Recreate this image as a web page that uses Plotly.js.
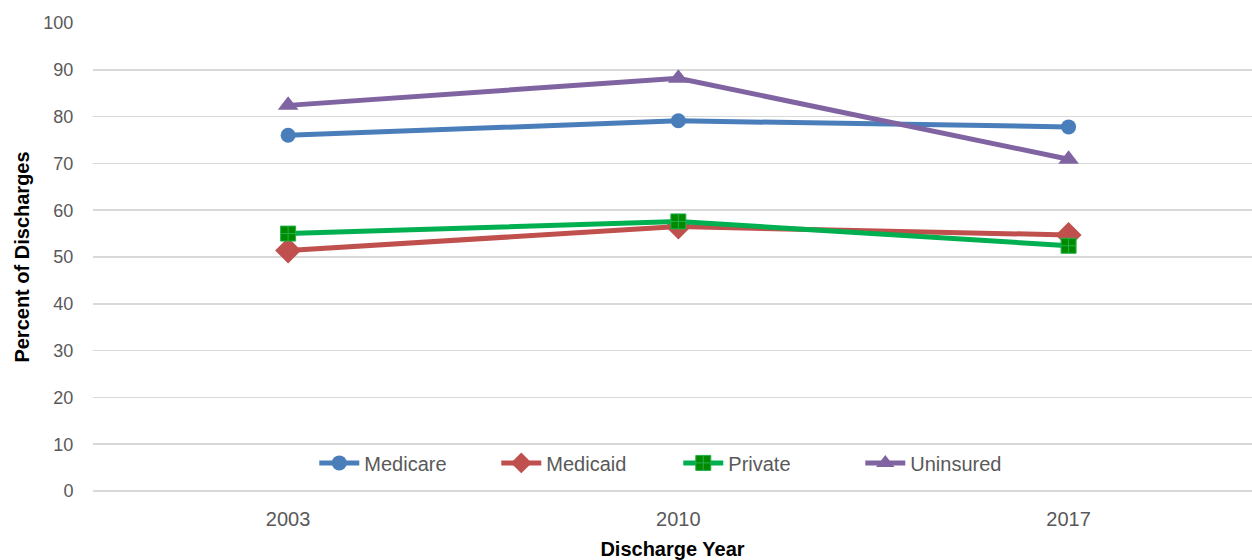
<!DOCTYPE html>
<html><head><meta charset="utf-8">
<script src="https://cdn.plot.ly/plotly-3.0.1.min.js"></script>
<style>html,body{margin:0;padding:0;background:#fff;}#chart{width:1252px;height:560px;}</style>
</head><body><div id="chart"></div>
<script>
const years = ['2003', '2010', '2017'];
const medicare = [76.0, 79.1, 77.8];
const medicaid = [51.4, 56.5, 54.7];
const privateIns = [55.0, 57.6, 52.4];
const uninsured = [82.4, 88.2, 70.9];
const yTicks = [0, 10, 20, 30, 40, 50, 60, 70, 80, 90, 100];

function tr(name, y, color, symbol, size, mcolor) {
  return {x: years, y: y, name: name, type: 'scatter', mode: 'lines+markers',
    line: {color: color, width: 5},
    marker: {symbol: symbol, size: size, color: mcolor || color, line: {width: 0}}};
}
const data = [
  tr('Medicare', medicare, '#4a7ebb', 'circle', 15),
  tr('Medicaid', medicaid, '#c0504d', 'diamond', 20),
  tr('Private', privateIns, '#00b050', 'square-cross', 15, '#008a00'),
  tr('Uninsured', uninsured, '#8064a2', 'triangle-up', 18)
];
data[2].marker.line = {width: 1, color: '#22b14c'};

const layout = {
  width: 1252, height: 560,
  margin: {l: 93, r: 0, t: 23, b: 69},
  paper_bgcolor: '#fff', plot_bgcolor: '#fff',
  font: {family: 'Liberation Sans, Arial, sans-serif', size: 18, color: '#595959'},
  showlegend: true,
  legend: {orientation: 'h', x: 0.505, xanchor: 'center', y: 0.06, yanchor: 'middle',
    font: {size: 20, color: '#595959'}, bgcolor: 'rgba(0,0,0,0)', itemwidth: 40,
    entrywidth: 127},
  xaxis: {type: 'category', range: [-0.5, 2.47], showgrid: false, zeroline: false,
    showline: false, ticks: 'outside', ticklen: 10, tickcolor: 'rgba(0,0,0,0)',
    tickfont: {size: 20, color: '#595959'},
    title: {text: 'Discharge Year', font: {size: 20, color: '#000', family: 'Liberation Sans, Arial, sans-serif', weight: 'bold'}, standoff: 14}},
  yaxis: {range: [0, 100], tickvals: yTicks, ticktext: yTicks.map(String),
    showgrid: true, gridcolor: '#d9d9d9', gridwidth: 1.5, zeroline: true, zerolinecolor: '#d9d9d9', zerolinewidth: 1.5,
    showline: false, ticks: 'outside', ticklen: 15, tickcolor: 'rgba(0,0,0,0)',
    tickfont: {size: 18, color: '#595959'},
    title: {text: 'Percent of Discharges', font: {size: 20, color: '#000', family: 'Liberation Sans, Arial, sans-serif', weight: 'bold'}, standoff: 8}}
};
Plotly.newPlot('chart', data, layout, {displayModeBar: false, staticPlot: true});
</script></body></html>
